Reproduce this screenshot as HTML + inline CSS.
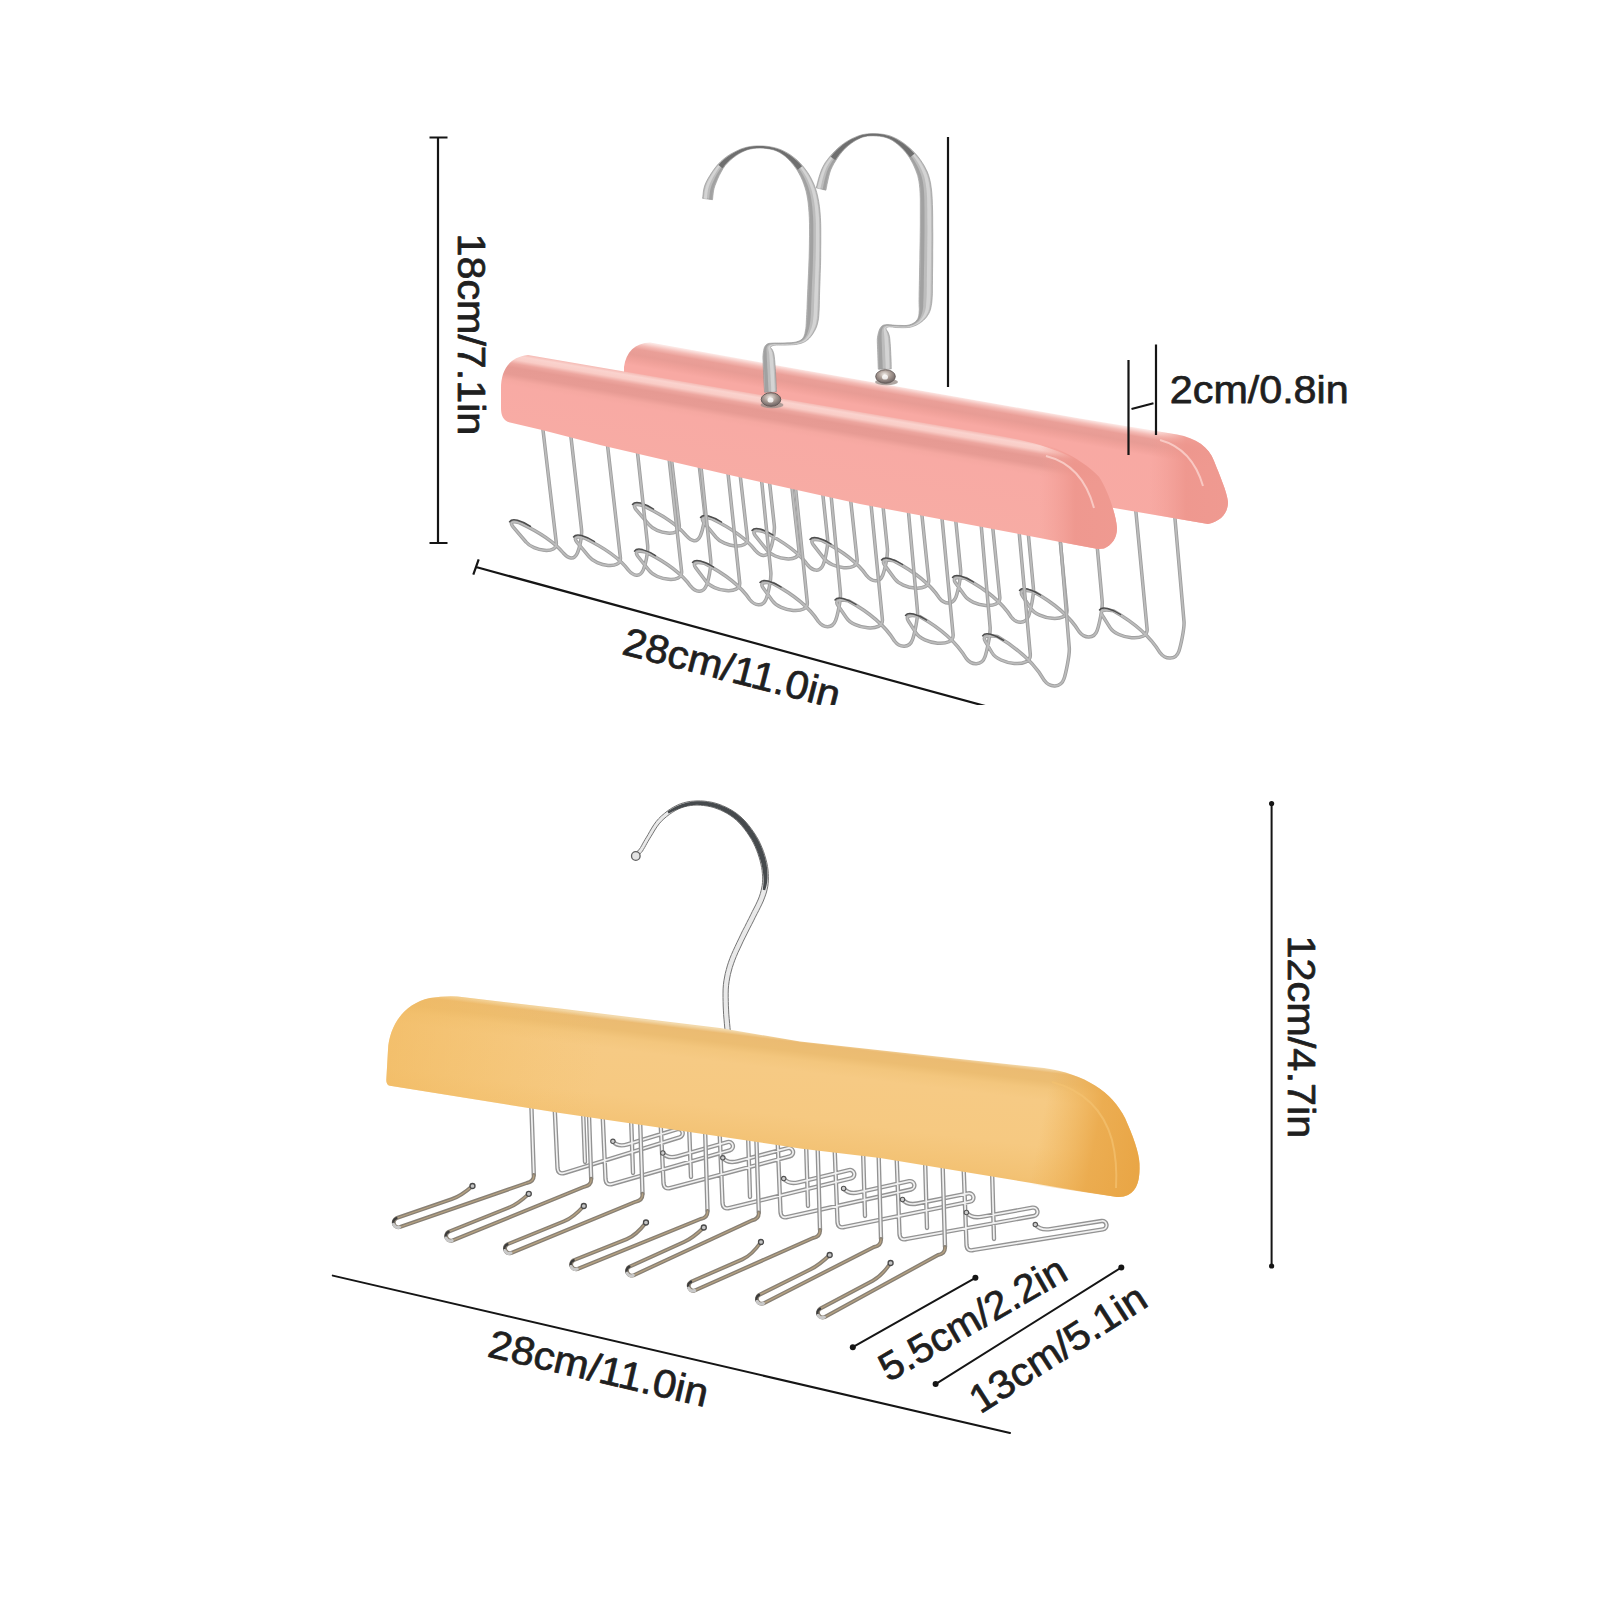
<!DOCTYPE html>
<html lang="en">
<head>
<meta charset="utf-8">
<title>Hanger size chart</title>
<style>
html,body{margin:0;padding:0;background:#fff;}
body{width:1600px;height:1600px;overflow:hidden;font-family:"Liberation Sans",sans-serif;}
svg{display:block}
</style>
</head>
<body>
<svg width="1600" height="1600" viewBox="0 0 1600 1600">
<defs>
<clipPath id="topclip"><rect x="0" y="0" width="1600" height="705"/></clipPath>
<linearGradient id="pinkF" gradientUnits="userSpaceOnUse" x1="700" y1="384.5" x2="683.05" y2="483.05">
 <stop offset="0" stop-color="#f5bab4"/><stop offset="0.03" stop-color="#fad3ce"/><stop offset="0.07" stop-color="#f9ccc6"/><stop offset="0.11" stop-color="#eda69f"/><stop offset="0.15" stop-color="#e69a93"/><stop offset="0.22" stop-color="#e79b94"/><stop offset="0.28" stop-color="#f5a8a1"/><stop offset="0.33" stop-color="#f8aaa4"/><stop offset="1" stop-color="#f7aca4"/>
</linearGradient>
<linearGradient id="pinkR" gradientUnits="userSpaceOnUse" x1="900" y1="387" x2="882.76" y2="485.5">
 <stop offset="0" stop-color="#fce6e3"/><stop offset="0.04" stop-color="#f4bbb5"/><stop offset="0.08" stop-color="#ea9f98"/><stop offset="0.14" stop-color="#e89c95"/><stop offset="0.19" stop-color="#f0a19a"/><stop offset="0.25" stop-color="#f8a9a3"/><stop offset="1" stop-color="#f7aaa3"/>
</linearGradient>
<linearGradient id="capF" gradientUnits="userSpaceOnUse" x1="1040" y1="500" x2="1118" y2="500">
 <stop offset="0" stop-color="#f29e95" stop-opacity="0"/><stop offset="0.45" stop-color="#ee968d" stop-opacity="0.9"/><stop offset="1" stop-color="#ef9a91"/>
</linearGradient>
<linearGradient id="capR" gradientUnits="userSpaceOnUse" x1="1150" y1="480" x2="1230" y2="480">
 <stop offset="0" stop-color="#f29e95" stop-opacity="0"/><stop offset="0.45" stop-color="#ee968d" stop-opacity="0.9"/><stop offset="1" stop-color="#ef9a91"/>
</linearGradient>
<linearGradient id="stripF" gradientUnits="userSpaceOnUse" x1="700" y1="0" x2="830" y2="0">
 <stop offset="0" stop-color="#a9a9a9"/><stop offset="0.5" stop-color="#8f8f8f"/><stop offset="0.82" stop-color="#b5b5b5"/><stop offset="0.9" stop-color="#d2d2d2"/><stop offset="1" stop-color="#a8a8a8"/>
</linearGradient>
<linearGradient id="stripR" gradientUnits="userSpaceOnUse" x1="815" y1="0" x2="940" y2="0">
 <stop offset="0" stop-color="#a9a9a9"/><stop offset="0.5" stop-color="#8f8f8f"/><stop offset="0.82" stop-color="#b5b5b5"/><stop offset="0.9" stop-color="#d2d2d2"/><stop offset="1" stop-color="#a8a8a8"/>
</linearGradient>
<radialGradient id="ballg" cx="0.45" cy="0.35" r="0.7">
 <stop offset="0" stop-color="#efe9e4"/><stop offset="0.45" stop-color="#a99c95"/><stop offset="1" stop-color="#63595a"/>
</radialGradient>
<linearGradient id="woodg" gradientUnits="userSpaceOnUse" x1="760" y1="1034" x2="744.5" y2="1163">
 <stop offset="0" stop-color="#f3d9ab"/><stop offset="0.03" stop-color="#ebbb72"/><stop offset="0.10" stop-color="#ecbd72"/><stop offset="0.16" stop-color="#f3c67d"/><stop offset="0.25" stop-color="#f6ca84"/><stop offset="0.6" stop-color="#f6c981"/><stop offset="0.85" stop-color="#f3c274"/><stop offset="1" stop-color="#f0b964"/>
</linearGradient>
<linearGradient id="woodcap" gradientUnits="userSpaceOnUse" x1="1040" y1="1130" x2="1140" y2="1150">
 <stop offset="0" stop-color="#eeb052" stop-opacity="0"/><stop offset="0.55" stop-color="#eaa849" stop-opacity="0.85"/><stop offset="1" stop-color="#e9a646"/>
</linearGradient>
<linearGradient id="woodleft" gradientUnits="userSpaceOnUse" x1="386" y1="1040" x2="600" y2="1066">
 <stop offset="0" stop-color="#f1b85c" stop-opacity="0.6"/><stop offset="0.45" stop-color="#f2bc62" stop-opacity="0.35"/><stop offset="1" stop-color="#f3c06a" stop-opacity="0"/>
</linearGradient>
<linearGradient id="chrome" gradientUnits="userSpaceOnUse" x1="630" y1="0" x2="770" y2="0">
 <stop offset="0" stop-color="#cfcfcf"/><stop offset="1" stop-color="#e6e6e6"/>
</linearGradient>
</defs>
<rect width="1600" height="1600" fill="#ffffff"/>
<g clip-path="url(#topclip)">
<!-- rear hanger -->
<path d="M665.1 405.1 L679.3 525.5 C680.7 537.4 656.6 534 649 524.7 L636.3 509.9 Q630.5 502.5 642.6 505.5 Q673.8 520.2 686.3 535.7 C691.3 541.3 696.9 543.4 700.4 535.7 C702.5 531.2 705.3 518.7 704.5 511.8 L693.2 412.9 M733.6 417.8 L747.4 538.2 C748.8 550.4 723.8 546.9 716.1 537.3 L704.2 522.9 Q698.5 515.5 711.2 518.5 Q742.6 533.7 755.3 550.4 C760.3 556.2 766.6 558.1 770 550.1 C772 545.5 775.1 532.3 774.3 525.4 L763.3 425.8 M785.6 430.5 L799 550.9 C800.4 563.4 774.4 559.8 766.8 549.9 L755.5 535.9 Q750 528.5 763.3 531.5 Q794.9 547.3 807.7 565 C812.8 571 819.8 572.8 823.2 564.6 C825.1 560 828.3 546 827.6 539 L816.9 438.7 M844.1 439.2 L857.1 559.6 C858.5 572.4 831.5 568.7 823.9 558.4 L813.4 544.9 Q808 537.5 821.8 540.4 Q853.7 556.8 866.7 575.7 C871.8 581.9 879.5 583.4 882.8 575 C884.7 570.4 888.1 555.6 887.4 548.6 L877 447.6 M916.1 459.4 L928.7 579.9 C930.1 592.8 902.1 589.2 894.5 578.5 L884.8 565.4 Q879.5 558 893.9 560.9 Q925.9 577.8 939.2 597.8 C944.2 604.2 952.6 605.6 956 596.9 C957.7 592.3 961.3 576.7 960.6 569.7 L950.6 467.9 M987.6 476.6 L999.8 597.1 C1001.2 610.3 972.1 606.6 964.6 595.6 L955.6 583 Q950.5 575.5 965.5 578.4 Q997.7 595.8 1011.2 617 C1016.2 623.6 1025.3 624.7 1028.6 615.9 C1030.3 611.2 1034.1 594.8 1033.4 587.8 L1023.7 485.3 M1055.1 489.3 L1067 609.8 C1068.3 623.3 1038.1 619.6 1030.8 608.2 L1022.5 596 Q1017.5 588.5 1033.1 591.4 Q1065.5 609.4 1079.1 631.6 C1084.2 638.4 1094 639.4 1097.2 630.3 C1098.9 625.6 1102.8 608.4 1102.2 601.4 L1092.8 498.3 M1135.6 508.5 L1147.1 629 C1148.4 642.8 1117.1 639.1 1109.9 627.3 L1102.4 615.5 Q1097.5 608 1113.7 610.9 Q1146.2 629.4 1160.1 652.8 C1165.2 659.8 1175.7 660.5 1178.9 651.2 C1180.5 646.5 1184.6 628.5 1184 621.5 L1174.9 517.7" fill="none" stroke="#9f9f9f" stroke-width="3.5" stroke-linecap="round" stroke-linejoin="round"/>
<path d="M665.1 405.1 L679.3 525.5 C680.7 537.4 656.6 534 649 524.7 L636.3 509.9 Q630.5 502.5 642.6 505.5 Q673.8 520.2 686.3 535.7 C691.3 541.3 696.9 543.4 700.4 535.7 C702.5 531.2 705.3 518.7 704.5 511.8 L693.2 412.9 M733.6 417.8 L747.4 538.2 C748.8 550.4 723.8 546.9 716.1 537.3 L704.2 522.9 Q698.5 515.5 711.2 518.5 Q742.6 533.7 755.3 550.4 C760.3 556.2 766.6 558.1 770 550.1 C772 545.5 775.1 532.3 774.3 525.4 L763.3 425.8 M785.6 430.5 L799 550.9 C800.4 563.4 774.4 559.8 766.8 549.9 L755.5 535.9 Q750 528.5 763.3 531.5 Q794.9 547.3 807.7 565 C812.8 571 819.8 572.8 823.2 564.6 C825.1 560 828.3 546 827.6 539 L816.9 438.7 M844.1 439.2 L857.1 559.6 C858.5 572.4 831.5 568.7 823.9 558.4 L813.4 544.9 Q808 537.5 821.8 540.4 Q853.7 556.8 866.7 575.7 C871.8 581.9 879.5 583.4 882.8 575 C884.7 570.4 888.1 555.6 887.4 548.6 L877 447.6 M916.1 459.4 L928.7 579.9 C930.1 592.8 902.1 589.2 894.5 578.5 L884.8 565.4 Q879.5 558 893.9 560.9 Q925.9 577.8 939.2 597.8 C944.2 604.2 952.6 605.6 956 596.9 C957.7 592.3 961.3 576.7 960.6 569.7 L950.6 467.9 M987.6 476.6 L999.8 597.1 C1001.2 610.3 972.1 606.6 964.6 595.6 L955.6 583 Q950.5 575.5 965.5 578.4 Q997.7 595.8 1011.2 617 C1016.2 623.6 1025.3 624.7 1028.6 615.9 C1030.3 611.2 1034.1 594.8 1033.4 587.8 L1023.7 485.3 M1055.1 489.3 L1067 609.8 C1068.3 623.3 1038.1 619.6 1030.8 608.2 L1022.5 596 Q1017.5 588.5 1033.1 591.4 Q1065.5 609.4 1079.1 631.6 C1084.2 638.4 1094 639.4 1097.2 630.3 C1098.9 625.6 1102.8 608.4 1102.2 601.4 L1092.8 498.3 M1135.6 508.5 L1147.1 629 C1148.4 642.8 1117.1 639.1 1109.9 627.3 L1102.4 615.5 Q1097.5 608 1113.7 610.9 Q1146.2 629.4 1160.1 652.8 C1165.2 659.8 1175.7 660.5 1178.9 651.2 C1180.5 646.5 1184.6 628.5 1184 621.5 L1174.9 517.7" fill="none" stroke="#bcbcbc" stroke-width="1.7" stroke-linecap="round" stroke-linejoin="round"/>
<path d="M632.5 504.5 q2 -3 8 -1.5 q7 2 13 6" fill="none" stroke="#4d4d4d" stroke-width="1.5" stroke-linecap="round"/>
<path d="M700.5 517.5 q2 -3 8 -1.5 q7 2 13 6" fill="none" stroke="#4d4d4d" stroke-width="1.5" stroke-linecap="round"/>
<path d="M752 530.5 q2 -3 8 -1.5 q7 2 13 6" fill="none" stroke="#4d4d4d" stroke-width="1.5" stroke-linecap="round"/>
<path d="M810 539.5 q2 -3 8 -1.5 q7 2 13 6" fill="none" stroke="#4d4d4d" stroke-width="1.5" stroke-linecap="round"/>
<path d="M881.5 560 q2 -3 8 -1.5 q7 2 13 6" fill="none" stroke="#4d4d4d" stroke-width="1.5" stroke-linecap="round"/>
<path d="M952.5 577.5 q2 -3 8 -1.5 q7 2 13 6" fill="none" stroke="#4d4d4d" stroke-width="1.5" stroke-linecap="round"/>
<path d="M1019.5 590.5 q2 -3 8 -1.5 q7 2 13 6" fill="none" stroke="#4d4d4d" stroke-width="1.5" stroke-linecap="round"/>
<path d="M1099.5 610 q2 -3 8 -1.5 q7 2 13 6" fill="none" stroke="#4d4d4d" stroke-width="1.5" stroke-linecap="round"/>
<path d="M650 342.5 L800 369.5 L950 395.8 L1080 418.5 L1177 434.5 C1196 438 1209 447 1214 461 C1220 476 1227 492 1228 502 C1228 512 1222 521 1208 524 L1117 508.5 L1000 489 L800 450 L640 420 L624 400 L624 367 C626 352 635 343 650 342.5 Z" fill="url(#pinkR)"/>
<path d="M1150 430 L1177 434.5 C1196 438 1209 447 1214 461 C1220 476 1227 492 1228 502 C1228 512 1222 521 1208 524 L1150 514 Z" fill="url(#capR)"/>
<path d="M1160 440 C1182 446 1196 462 1203 486" fill="none" stroke="#fbd5cf" stroke-width="2" opacity="0.8"/>
<path d="M825.9 190.2 L826.4 187.8 L827 184.5 L827.8 180.8 L828.7 176.8 L829.7 173.1 L830.8 169.8 L832.2 166.8 L833.9 163.6 L835.8 160.5 L837.8 157.4 L839.9 154.5 L842 151.9 L844.1 149.6 L846.3 147.4 L848.6 145.4 L851 143.5 L853.3 141.9 L855.7 140.4 L858 139.2 L860.3 138.1 L862.5 137.2 L864.9 136.6 L867.3 136.1 L870.1 135.9 L873.1 135.8 L876.3 136 L879.7 136.3 L883.1 136.8 L886.4 137.7 L889.4 138.9 L892.3 140.4 L895.2 142.4 L897.9 144.5 L900.6 146.9 L903.1 149.5 L905.4 152.1 L907.5 154.8 L909.5 157.7 L911.3 160.8 L913 163.9 L914.4 167 L915.7 170.1 L916.8 173 L917.7 175.6 L918.3 178.3 L918.9 181.1 L919.4 184.5 L919.8 188.6 L920.1 193.4 L920.3 198.8 L920.3 204.7 L920.3 211.1 L920.3 217.9 L920.3 225 L920.2 232.8 L920.1 241.6 L919.9 250.7 L919.8 259.6 L919.6 267.9 L919.5 274.9 L919.4 280.7 L919.3 285.6 L919.2 289.8 L919.1 293.4 L919.1 296.6 L919 299.7 L919 302.4 L919.1 304.6 L919.1 306.3 L919.2 307.8 L919.3 309.1 L919.2 310.5 L919.1 312.1 L919 313.7 L918.8 315.2 L918.5 316.7 L918.1 318.1 L917.4 319.4 L916.5 320.6 L915.4 321.7 L914.2 322.7 L912.8 323.5 L911.3 324.2 L909.7 324.8 L908 325.2 L906.1 325.5 L904.1 325.5 L902 325.5 L899.9 325.4 L898 325.4 L896.2 325.3 L894.4 325.2 L892.7 325 L890.9 324.8 L889.3 324.7 L887.9 324.6 L886.6 324.6 L885.4 324.7 L884.2 324.9 L882.9 325.4 L881.7 326.2 L880.7 327.4 L879.8 328.9 L879.1 330.6 L878.6 332.2 L878.2 333.8 L877.8 335.5 L877.5 337.3 L877.3 339.4 L877.3 341.8 L877.4 344.3 L877.5 346.9 L877.6 349.6 L877.7 352.3 L877.8 355.2 L877.9 358.4 L878 361.7 L878.1 364.7 L878.2 367.3 L878.3 369.2 L891.3 368.8 L891.2 366.9 L891.2 364.3 L891.1 361.2 L891 357.9 L890.8 354.7 L890.7 351.7 L890.5 349 L890.4 346.3 L890.2 343.6 L890 341.1 L889.8 338.8 L889.5 336.7 L889 334.8 L888.4 333.1 L887.8 331.8 L887.1 330.8 L886.6 330.1 L886.3 329.6 L886.1 329.1 L886 328.7 L886.1 328.3 L886.4 327.8 L887.2 327.3 L888.1 327 L889.3 326.8 L890.8 326.9 L892.4 327 L894.2 327.3 L896.1 327.5 L898 327.6 L899.9 327.6 L901.9 327.7 L904.1 327.7 L906.2 327.6 L908.3 327.5 L910.3 327.2 L912.2 326.7 L913.9 326.1 L915.7 325.4 L917.4 324.6 L919 323.6 L920.6 322.6 L922.1 321.4 L923.7 320.1 L925.1 318.7 L926.5 317.1 L927.7 315.3 L928.8 313.5 L929.7 311.6 L930.4 309.7 L930.9 307.7 L931.3 305.5 L931.7 303.2 L932 300.3 L932.2 297.1 L932.4 293.7 L932.4 290 L932.4 285.8 L932.5 280.8 L932.5 275.1 L932.6 268.1 L932.7 259.8 L932.7 250.8 L932.8 241.7 L932.8 232.9 L932.7 225 L932.7 217.9 L932.6 211 L932.4 204.5 L932.2 198.4 L931.8 192.6 L931.2 187.4 L930.5 182.8 L929.6 178.9 L928.6 175.4 L927.4 172.1 L925.9 169.1 L924.3 165.9 L922.3 162.7 L920.1 159.4 L917.7 156.3 L915.1 153.3 L912.4 150.5 L909.6 147.9 L906.7 145.5 L903.7 143.2 L900.5 141 L897.2 139.1 L893.9 137.5 L890.6 136.1 L887.1 135.1 L883.6 134.4 L880 133.9 L876.5 133.7 L873.1 133.6 L869.9 133.7 L867.1 133.9 L864.4 134.3 L861.8 134.8 L859.3 135.6 L856.8 136.5 L854.3 137.6 L851.6 138.8 L848.9 140.3 L846.1 141.9 L843.4 143.8 L840.7 145.8 L838 148.1 L835.4 150.6 L832.7 153.3 L830.1 156.3 L827.6 159.4 L825.2 162.7 L823.2 166.2 L821.4 170.1 L819.9 174.3 L818.6 178.5 L817.6 182.4 L816.8 185.6 L816.1 187.8Z" fill="#bcbcbc" stroke="#8f8f8f" stroke-width="0.6" stroke-linejoin="round"/>
<path d="M820.3 188.9 L820.9 186.5 L821.6 183.3 L822.5 179.5 L823.6 175.4 L824.9 171.4 L826.4 167.8 L828.2 164.5 L830.3 161.3 L832.5 158.1 L834.9 155.1 L837.3 152.3 L839.7 149.7 L842.1 147.4 L844.6 145.3 L847.2 143.4 L849.8 141.7 L852.3 140.2 L854.9 138.8 L857.3 137.6 L859.7 136.7 L862.1 135.9 L864.6 135.3 L867.2 134.9 L870 134.6 L873.1 134.6 L876.4 134.7 L879.9 134.9 L883.4 135.4 L886.8 136.2 L890.1 137.3 L893.2 138.7 L896.4 140.5 L899.4 142.6 L902.4 144.8 L905.2 147.2 L907.8 149.7 L910.3 152.4 L912.7 155.2 L915 158.3 L917.1 161.4 L919 164.6 L920.6 167.7 L922 170.8 L923.2 173.7 L924.2 176.6 L925 179.9 L925.7 183.6 L926.3 187.9 L926.8 193 L927.1 198.6 L927.2 204.6 L927.3 211.1 L927.3 217.9 L927.4 225 L927.4 232.9 L927.3 241.6 L927.2 250.8 L927.1 259.7 L927 268 L926.9 275 L926.8 280.8 L926.8 285.7 L926.7 289.9 L926.7 293.6 L926.6 296.9 L926.4 300 L926.2 302.8 L926.1 305.1 L925.9 307 L925.6 308.7 L925.2 310.4 L924.7 312.1 L924.1 313.8 L923.3 315.5 L922.5 317.1 L921.5 318.6 L920.4 319.9 L919.3 321.2 L918 322.3 L916.6 323.3 L915.1 324.2 L913.5 325 L911.8 325.6 L910 326.2 L908.2 326.5 L906.2 326.7 L904.1 326.8 L902 326.7 L899.9 326.7 L898 326.7 L896.1 326.6 L894.3 326.4 L892.5 326.2 L890.8 326 L889.3 325.9 L888 326 L886.9 326.2 L885.9 326.5 L885.2 326.9 L884.6 327.4 L884.1 328.1 L883.8 328.9 L883.7 329.9 L883.7 331 L883.9 332.2 L884 333.6 L884.2 335.3 L884.3 337.1 L884.5 339.1 L884.6 341.4 L884.7 343.9 L884.9 346.6 L885 349.3 L885.1 352 L885.2 354.9 L885.3 358.1 L885.5 361.4 L885.6 364.5 L885.6 367.1 L885.7 369 L889.6 368.8 L889.5 367 L889.5 364.4 L889.4 361.3 L889.3 358 L889.1 354.7 L889 351.8 L888.9 349.1 L888.7 346.4 L888.6 343.7 L888.4 341.2 L888.2 338.8 L887.9 336.7 L887.5 334.7 L887 333 L886.5 331.6 L886.1 330.5 L885.8 329.7 L885.6 329.1 L885.6 328.6 L885.7 328.1 L885.9 327.8 L886.4 327.4 L887.1 327 L888.1 326.7 L889.3 326.5 L890.8 326.6 L892.4 326.8 L894.2 327 L896.1 327.2 L898 327.3 L899.9 327.3 L902 327.4 L904.1 327.4 L906.2 327.3 L908.3 327.2 L910.2 326.9 L912 326.4 L913.8 325.8 L915.5 325 L917.1 324.2 L918.7 323.3 L920.1 322.2 L921.6 321 L922.9 319.8 L924.2 318.3 L925.5 316.7 L926.5 315 L927.5 313.2 L928.3 311.4 L928.9 309.5 L929.4 307.6 L929.7 305.5 L930 303.1 L930.3 300.3 L930.5 297.1 L930.6 293.7 L930.7 290 L930.7 285.7 L930.8 280.8 L930.8 275.1 L930.9 268 L931 259.8 L931.1 250.8 L931.2 241.7 L931.2 232.9 L931.1 225 L931.1 217.9 L931 211 L930.8 204.5 L930.6 198.4 L930.3 192.7 L929.7 187.5 L929 183 L928.2 179.1 L927.3 175.7 L926.1 172.6 L924.7 169.5 L923.1 166.4 L921.3 163.2 L919.2 160 L916.9 156.9 L914.4 153.9 L911.8 151 L909.1 148.4 L906.2 146 L903.3 143.7 L900.1 141.5 L896.9 139.5 L893.7 137.8 L890.4 136.5 L887 135.4 L883.5 134.7 L879.9 134.2 L876.4 134 L873.1 133.9 L870 134 L867.1 134.2 L864.5 134.6 L861.9 135.2 L859.5 135.9 L857 136.8 L854.5 137.9 L851.8 139.2 L849.2 140.7 L846.5 142.4 L843.8 144.2 L841.1 146.3 L838.6 148.6 L836 151.1 L833.4 153.8 L830.9 156.8 L828.4 159.9 L826.2 163.2 L824.2 166.6 L822.5 170.4 L821 174.6 L819.8 178.8 L818.8 182.6 L818 185.8 L817.4 188.1Z" fill="#d6d6d6" opacity="0.9"/>
<path d="M825.3 190 L825.8 187.6 L826.4 184.4 L827.2 180.6 L828.1 176.7 L829.2 172.9 L830.4 169.6 L831.8 166.5 L833.6 163.3 L835.5 160.2 L837.5 157.1 L839.6 154.3 L841.8 151.7 L843.9 149.3 L846.2 147.1 L848.5 145.1 L850.9 143.3 L853.3 141.7 L855.7 140.2 L858 139 L860.2 138 L862.5 137.1 L864.8 136.5 L867.3 136 L870 135.8 L873.1 135.7 L876.3 135.8 L879.7 136.1 L883.1 136.7 L886.4 137.6 L889.5 138.7 L892.4 140.3 L895.3 142.1 L898.1 144.3 L900.7 146.7 L903.3 149.2 L905.6 151.8 L907.7 154.5 L909.8 157.4 L911.6 160.4 L913.4 163.5 L914.9 166.7 L916.2 169.8 L917.3 172.7 L918.2 175.4 L918.9 178 L919.5 181 L920 184.4 L920.5 188.5 L920.8 193.4 L921 198.8 L921.1 204.7 L921.1 211.1 L921 217.9 L921 225 L921 232.8 L920.8 241.6 L920.7 250.7 L920.6 259.6 L920.4 267.9 L920.3 274.9 L920.2 280.7 L920.1 285.6 L920 289.8 L919.9 293.4 L919.8 296.7 L919.8 299.8 L919.8 302.5 L919.8 304.8 L919.8 306.6 L919.9 308.1 L919.9 309.4 L919.8 310.9 L919.6 312.5 L919.4 314.1 L919.1 315.6 L918.7 317.1 L918.2 318.4 L917.5 319.7 L916.6 320.8 L915.5 321.9 L914.2 322.8 L912.8 323.7 L911.3 324.4 L909.7 325 L908 325.4 L906.1 325.6 L904.1 325.7 L902 325.6 L899.9 325.6 L898 325.5 L896.2 325.5 L894.4 325.3 L892.6 325.1 L890.9 324.9 L889.3 324.8 L887.9 324.7 L886.7 324.8 L885.5 324.9 L884.4 325.1 L883.2 325.5 L882.1 326.3 L881.1 327.4 L880.3 328.8 L879.7 330.3 L879.2 331.9 L878.8 333.5 L878.5 335.2 L878.2 337.1 L878.1 339.2 L878.1 341.7 L878.2 344.2 L878.3 346.9 L878.4 349.6 L878.5 352.2 L878.6 355.1 L878.7 358.4 L878.8 361.6 L878.9 364.7 L879 367.3 L879.1 369.2 L882.7 369.1 L882.7 367.2 L882.6 364.6 L882.5 361.5 L882.3 358.2 L882.2 355 L882.1 352.1 L882 349.4 L881.9 346.7 L881.8 344.1 L881.7 341.6 L881.6 339.3 L881.6 337.2 L881.6 335.5 L881.6 333.9 L881.7 332.3 L881.8 330.9 L882.1 329.5 L882.5 328.3 L883.1 327.3 L883.9 326.6 L884.7 326.1 L885.7 325.8 L886.7 325.6 L887.9 325.4 L889.3 325.4 L890.9 325.5 L892.6 325.7 L894.4 325.9 L896.2 326.1 L898 326.1 L899.9 326.2 L902 326.2 L904.1 326.3 L906.1 326.2 L908.1 326 L909.9 325.6 L911.6 325.1 L913.2 324.4 L914.7 323.6 L916.1 322.6 L917.4 321.6 L918.5 320.4 L919.5 319.1 L920.3 317.7 L921 316.2 L921.6 314.6 L922.1 313 L922.5 311.3 L922.8 309.7 L923 308.2 L923.2 306.6 L923.2 304.8 L923.3 302.6 L923.4 299.9 L923.5 296.8 L923.6 293.5 L923.7 289.8 L923.8 285.6 L923.8 280.7 L923.9 275 L924 267.9 L924.2 259.7 L924.3 250.7 L924.4 241.6 L924.5 232.9 L924.5 225 L924.5 217.9 L924.5 211.1 L924.4 204.7 L924.3 198.7 L924.1 193.2 L923.7 188.2 L923.2 184 L922.6 180.4 L921.8 177.3 L921 174.5 L919.9 171.7 L918.7 168.7 L917.1 165.6 L915.4 162.4 L913.5 159.3 L911.4 156.3 L909.2 153.4 L906.8 150.7 L904.3 148.2 L901.7 145.7 L898.8 143.4 L895.9 141.3 L892.9 139.4 L889.8 138 L886.6 136.8 L883.3 136 L879.8 135.5 L876.4 135.2 L873.1 135.1 L870 135.2 L867.3 135.4 L864.7 135.8 L862.3 136.4 L860 137.2 L857.6 138.3 L855.2 139.5 L852.7 140.9 L850.2 142.4 L847.8 144.2 L845.3 146.2 L842.9 148.3 L840.6 150.6 L838.3 153.2 L836 156.1 L833.8 159.1 L831.7 162.2 L829.8 165.4 L828.2 168.6 L826.8 172.1 L825.7 176 L824.6 180 L823.8 183.8 L823.1 187.1 L822.5 189.4Z" fill="#9a9a9a" opacity="0.8"/>
<path d="M835.2 160.1 L837.3 157 L839.4 154.1 L841.6 151.5 L843.8 149.2 L846 147 L848.4 145 L850.8 143.2 L853.2 141.6 L855.6 140.1 L857.9 138.9 L860.2 137.9 L862.5 137 L864.8 136.4 L867.3 136 L870 135.8 L873.1 135.7 L876.3 135.8 L879.7 136.1 L883.1 136.6 L886.5 137.4 L889.6 138.6 L892.5 140.1 L895.4 142 L898.2 144.2 L900.9 146.6 L903.4 149.1 L905.8 151.7 L908 154.4 L910.1 157.3 L914.5 153.7 L911.9 150.9 L909.2 148.3 L906.4 145.9 L903.4 143.6 L900.2 141.4 L897 139.4 L893.7 137.8 L890.4 136.4 L887 135.4 L883.5 134.6 L880 134.1 L876.4 133.8 L873.1 133.7 L870 133.8 L867.1 134 L864.4 134.5 L861.9 135.1 L859.4 135.8 L857 136.8 L854.4 137.9 L851.8 139.1 L849.1 140.6 L846.4 142.3 L843.7 144.1 L841 146.2 L838.4 148.5 L835.8 151 L833.2 153.7 L830.7 156.7Z" fill="#6f6f6f"/>
<ellipse cx="886.5" cy="382" rx="11.5" ry="3.2" fill="#9a8f8a" opacity="0.8"/>
<ellipse cx="885.5" cy="376.5" rx="9.8" ry="6.8" fill="url(#ballg)" stroke="#5f5653" stroke-width="0.9"/>
<ellipse cx="885" cy="377" rx="3" ry="2.6" fill="#ffffff" opacity="0.8"/>
<!-- front hanger -->
<path d="M542.1 422.4 L556.3 542.8 C557.7 554.7 533.6 551.3 526 542 L513.3 527.2 Q507.5 519.8 519.6 522.8 Q550.8 537.5 563.3 553 C568.3 558.6 573.9 560.7 577.4 553 C579.5 548.5 582.3 536 581.5 529.1 L570.2 430.2 M606.6 437.2 L620.4 557.7 C621.8 569.9 596.6 566.4 589 556.7 L577.1 542.4 Q571.5 535 584.3 538 Q615.8 553.3 628.4 570.1 C633.5 576 639.9 577.9 643.3 569.9 C645.3 565.3 648.4 552 647.6 545 L636.7 445.2 M668.2 451 L681.6 571.4 C682.9 584 656.6 580.4 648.9 570.3 L638 556.5 Q632.5 549.1 646 552.1 Q677.7 568 690.6 586.2 C695.6 592.3 702.9 593.9 706.3 585.7 C708.2 581 711.5 566.8 710.7 559.8 L700.2 459.2 M726.8 462 L739.7 582.5 C741.1 595.3 713.5 591.7 705.9 581.2 L695.8 567.9 Q690.5 560.5 704.7 563.4 Q736.6 580.1 749.7 599.5 C754.8 605.9 762.9 607.3 766.2 598.8 C768 594.1 771.5 578.9 770.8 571.9 L760.6 470.5 M794.9 481.7 L807.3 602.2 C808.7 615.3 779.9 611.6 772.4 600.7 L763.2 588 Q758 580.5 772.8 583.4 Q805 600.7 818.4 621.5 C823.4 628 832.3 629.2 835.6 620.4 C837.4 615.8 841.1 599.6 840.4 592.6 L830.6 490.4 M870.5 498.9 L882.4 619.3 C883.8 632.8 853.7 629.1 846.4 617.7 L838 605.5 Q833 598 848.5 600.9 Q880.9 618.8 894.5 641 C899.6 647.7 909.3 648.7 912.5 639.6 C914.2 634.9 918.1 617.8 917.5 610.9 L908.1 507.8 M941.6 514 L953.1 634.5 C954.4 648.3 923 644.6 915.8 632.7 L908.4 621 Q903.5 613.5 919.7 616.4 Q952.3 634.9 966.2 658.4 C971.3 665.4 981.8 666.1 985 656.8 C986.6 652.1 990.7 634 990.1 627.1 L981 523.1 M1019.3 534 L1030.3 654.4 C1031.6 668.6 998.9 664.9 991.9 652.5 L985.3 641.3 Q980.6 633.8 997.5 636.6 Q1030.3 655.9 1044.4 680.6 C1049.6 687.8 1060.8 688.3 1064 678.8 C1065.6 674.1 1069.8 655.1 1069.3 648.1 L1060.6 543.3" fill="none" stroke="#9f9f9f" stroke-width="3.5" stroke-linecap="round" stroke-linejoin="round"/>
<path d="M542.1 422.4 L556.3 542.8 C557.7 554.7 533.6 551.3 526 542 L513.3 527.2 Q507.5 519.8 519.6 522.8 Q550.8 537.5 563.3 553 C568.3 558.6 573.9 560.7 577.4 553 C579.5 548.5 582.3 536 581.5 529.1 L570.2 430.2 M606.6 437.2 L620.4 557.7 C621.8 569.9 596.6 566.4 589 556.7 L577.1 542.4 Q571.5 535 584.3 538 Q615.8 553.3 628.4 570.1 C633.5 576 639.9 577.9 643.3 569.9 C645.3 565.3 648.4 552 647.6 545 L636.7 445.2 M668.2 451 L681.6 571.4 C682.9 584 656.6 580.4 648.9 570.3 L638 556.5 Q632.5 549.1 646 552.1 Q677.7 568 690.6 586.2 C695.6 592.3 702.9 593.9 706.3 585.7 C708.2 581 711.5 566.8 710.7 559.8 L700.2 459.2 M726.8 462 L739.7 582.5 C741.1 595.3 713.5 591.7 705.9 581.2 L695.8 567.9 Q690.5 560.5 704.7 563.4 Q736.6 580.1 749.7 599.5 C754.8 605.9 762.9 607.3 766.2 598.8 C768 594.1 771.5 578.9 770.8 571.9 L760.6 470.5 M794.9 481.7 L807.3 602.2 C808.7 615.3 779.9 611.6 772.4 600.7 L763.2 588 Q758 580.5 772.8 583.4 Q805 600.7 818.4 621.5 C823.4 628 832.3 629.2 835.6 620.4 C837.4 615.8 841.1 599.6 840.4 592.6 L830.6 490.4 M870.5 498.9 L882.4 619.3 C883.8 632.8 853.7 629.1 846.4 617.7 L838 605.5 Q833 598 848.5 600.9 Q880.9 618.8 894.5 641 C899.6 647.7 909.3 648.7 912.5 639.6 C914.2 634.9 918.1 617.8 917.5 610.9 L908.1 507.8 M941.6 514 L953.1 634.5 C954.4 648.3 923 644.6 915.8 632.7 L908.4 621 Q903.5 613.5 919.7 616.4 Q952.3 634.9 966.2 658.4 C971.3 665.4 981.8 666.1 985 656.8 C986.6 652.1 990.7 634 990.1 627.1 L981 523.1 M1019.3 534 L1030.3 654.4 C1031.6 668.6 998.9 664.9 991.9 652.5 L985.3 641.3 Q980.6 633.8 997.5 636.6 Q1030.3 655.9 1044.4 680.6 C1049.6 687.8 1060.8 688.3 1064 678.8 C1065.6 674.1 1069.8 655.1 1069.3 648.1 L1060.6 543.3" fill="none" stroke="#bcbcbc" stroke-width="1.7" stroke-linecap="round" stroke-linejoin="round"/>
<path d="M509.5 521.8 q2 -3 8 -1.5 q7 2 13 6" fill="none" stroke="#4d4d4d" stroke-width="1.5" stroke-linecap="round"/>
<path d="M573.5 537 q2 -3 8 -1.5 q7 2 13 6" fill="none" stroke="#4d4d4d" stroke-width="1.5" stroke-linecap="round"/>
<path d="M634.5 551.1 q2 -3 8 -1.5 q7 2 13 6" fill="none" stroke="#4d4d4d" stroke-width="1.5" stroke-linecap="round"/>
<path d="M692.5 562.5 q2 -3 8 -1.5 q7 2 13 6" fill="none" stroke="#4d4d4d" stroke-width="1.5" stroke-linecap="round"/>
<path d="M760 582.5 q2 -3 8 -1.5 q7 2 13 6" fill="none" stroke="#4d4d4d" stroke-width="1.5" stroke-linecap="round"/>
<path d="M835 600 q2 -3 8 -1.5 q7 2 13 6" fill="none" stroke="#4d4d4d" stroke-width="1.5" stroke-linecap="round"/>
<path d="M905.5 615.5 q2 -3 8 -1.5 q7 2 13 6" fill="none" stroke="#4d4d4d" stroke-width="1.5" stroke-linecap="round"/>
<path d="M982.6 635.8 q2 -3 8 -1.5 q7 2 13 6" fill="none" stroke="#4d4d4d" stroke-width="1.5" stroke-linecap="round"/>
<path d="M528 355 L1000 436 C1040 443 1078 455 1099 477 C1108 490 1116 515 1117 528 C1117 538 1112 545 1104 548.5 L1098 549 L860 504 L725 474 L600 445 L542 430 L510 422.5 C503 421 501 415 501 408 L501 388 C501 372 508 357 528 355 Z" fill="url(#pinkF)"/>
<path d="M1030 441 C1050 445 1078 455 1099 477 C1108 490 1116 515 1117 528 C1117 538 1112 545 1104 548.5 L1098 549 L1030 536.5 Z" fill="url(#capF)"/>
<path d="M1046 456 C1070 462 1086 478 1094 508" fill="none" stroke="#fbd5cf" stroke-width="2" opacity="0.8"/>
<path d="M712.5 199.7 L712.7 198 L712.9 195.9 L713.2 193.5 L713.5 191 L714.1 188.4 L714.9 185.8 L716.1 182.8 L717.5 179.3 L719.2 175.6 L721.1 172 L723.1 168.5 L725.2 165.5 L727.6 162.8 L730.3 160.2 L733.1 157.8 L736.1 155.6 L739.2 153.6 L742.1 152 L745 150.7 L747.9 149.6 L750.9 148.9 L753.8 148.4 L756.9 148.2 L760 148.1 L763.2 148.2 L766.5 148.5 L769.9 149 L773.2 149.8 L776.3 150.9 L779.4 152.4 L782.3 154.2 L785.1 156.3 L787.8 158.7 L790.4 161.4 L792.8 164.2 L795 167.1 L797.1 170.1 L799 173.4 L800.8 176.8 L802.4 180.3 L803.8 183.9 L805 187.6 L806.1 191.3 L806.9 195 L807.6 198.9 L808.2 203 L808.6 207.5 L809 212.4 L809.3 217.8 L809.5 223.7 L809.5 229.8 L809.5 236.3 L809.4 243.1 L809.3 249.9 L809.1 257.2 L808.8 265.1 L808.5 273.2 L808.1 281.1 L807.8 288.5 L807.5 294.8 L807.3 300 L807.1 304.5 L807 308.3 L806.8 311.7 L806.7 314.6 L806.5 317.4 L806.4 319.9 L806.3 322 L806.2 323.7 L806.1 325.3 L806 326.8 L805.8 328.5 L805.5 330.2 L805.2 331.8 L804.9 333.4 L804.5 334.9 L804 336.2 L803.4 337.4 L802.6 338.4 L801.8 339.3 L800.8 340.1 L799.6 340.7 L798.2 341.3 L796.7 341.8 L795.1 342.2 L793.2 342.5 L791.2 342.7 L789.1 342.7 L787 342.8 L785 342.9 L782.9 343 L780.7 343 L778.6 343 L776.5 343 L774.5 343 L772.8 343.1 L771.4 343.2 L770.1 343.3 L768.9 343.4 L767.6 343.8 L766.3 344.7 L765.2 345.9 L764.4 347.5 L763.9 349.1 L763.6 350.7 L763.4 352.2 L763.2 353.7 L763 355.4 L762.9 357.6 L763 360.2 L763.1 363.1 L763.2 366.1 L763.4 369.2 L763.5 372.3 L763.7 375.7 L763.8 379.5 L764 383.4 L764.2 387 L764.4 390.1 L764.5 392.3 L776.5 391.7 L776.4 389.5 L776.3 386.4 L776.1 382.8 L775.9 378.9 L775.7 375.1 L775.5 371.7 L775.3 368.6 L775.1 365.4 L774.9 362.4 L774.6 359.5 L774.3 356.9 L774 354.6 L773.5 352.5 L772.8 350.8 L772.2 349.5 L771.6 348.7 L771.1 348.4 L770.8 348.1 L770.6 347.8 L770.4 347.4 L770.6 346.9 L771.1 346.4 L772 345.9 L773.2 345.5 L774.7 345.2 L776.5 345.1 L778.6 345.1 L780.7 345.1 L782.9 345.1 L785 345.1 L787.1 345 L789.2 344.9 L791.3 344.8 L793.4 344.7 L795.4 344.5 L797.3 344.2 L799 343.8 L800.6 343.4 L802.1 342.9 L803.6 342.3 L805.1 341.6 L806.6 340.6 L808.1 339.4 L809.5 338.1 L810.8 336.6 L812 335 L813.2 333.3 L814.2 331.5 L815.2 329.8 L816 328 L816.8 326 L817.4 323.9 L818 321.4 L818.5 318.6 L818.8 315.5 L819 312.3 L819.2 308.8 L819.3 304.9 L819.4 300.4 L819.5 295.2 L819.7 288.9 L820 281.6 L820.2 273.7 L820.5 265.5 L820.7 257.5 L820.7 250.1 L820.8 243.2 L820.8 236.4 L820.8 229.8 L820.7 223.4 L820.4 217.3 L820 211.6 L819.4 206.3 L818.7 201.5 L817.8 197 L816.8 192.7 L815.5 188.5 L814 184.4 L812.1 180.3 L810.1 176.4 L807.8 172.7 L805.3 169.2 L802.7 165.9 L800 162.9 L797.1 160.1 L793.9 157.5 L790.7 155.1 L787.4 153 L784 151.2 L780.6 149.6 L777.2 148.4 L773.8 147.5 L770.3 146.8 L766.8 146.3 L763.3 146 L760 145.9 L756.8 145.9 L753.6 146.1 L750.4 146.5 L747.3 147.1 L744.1 147.9 L740.9 149 L737.5 150.5 L734.1 152.2 L730.6 154.1 L727.2 156.3 L723.9 158.8 L720.8 161.5 L717.8 164.5 L715 168 L712.4 171.6 L710 175.3 L707.9 178.8 L706.1 182.2 L704.7 185.6 L703.8 189 L703.3 192.1 L703 194.8 L702.8 196.9 L702.5 198.3Z" fill="#bcbcbc" stroke="#8f8f8f" stroke-width="0.6" stroke-linejoin="round"/>
<path d="M706.8 198.9 L707 197.4 L707.2 195.2 L707.5 192.7 L708 189.8 L708.8 186.8 L709.9 183.8 L711.4 180.6 L713.2 177.1 L715.3 173.4 L717.6 169.7 L720.1 166.3 L722.7 163.2 L725.5 160.5 L728.5 158 L731.7 155.7 L735 153.6 L738.2 151.8 L741.4 150.3 L744.5 149.1 L747.6 148.2 L750.6 147.5 L753.7 147.1 L756.8 146.9 L760 146.8 L763.3 147 L766.7 147.3 L770.1 147.7 L773.5 148.5 L776.9 149.5 L780.1 150.8 L783.3 152.5 L786.4 154.4 L789.5 156.7 L792.4 159.2 L795.3 161.9 L797.9 164.7 L800.3 167.8 L802.6 171 L804.8 174.5 L806.8 178.1 L808.6 181.9 L810.1 185.8 L811.5 189.7 L812.5 193.7 L813.4 197.8 L814.2 202.2 L814.8 206.8 L815.3 211.9 L815.6 217.5 L815.9 223.5 L815.9 229.8 L815.9 236.4 L815.9 243.1 L815.8 250 L815.7 257.4 L815.4 265.3 L815.2 273.5 L814.9 281.4 L814.6 288.7 L814.3 295 L814.2 300.3 L814 304.7 L813.9 308.6 L813.8 312 L813.6 315.1 L813.3 318 L813 320.7 L812.7 323 L812.3 324.9 L811.8 326.7 L811.3 328.4 L810.6 330.1 L809.9 331.9 L809.2 333.5 L808.3 335.1 L807.4 336.6 L806.4 338 L805.3 339.2 L804.1 340.2 L802.9 341 L801.6 341.7 L800.2 342.3 L798.7 342.7 L797 343.2 L795.3 343.5 L793.3 343.7 L791.3 343.9 L789.2 344 L787.1 344.1 L785 344.2 L782.9 344.2 L780.7 344.2 L778.6 344.2 L776.5 344.2 L774.6 344.3 L773 344.5 L771.7 344.7 L770.6 345.1 L769.8 345.5 L769.1 346 L768.6 346.6 L768.3 347.4 L768.2 348.3 L768.3 349.2 L768.5 350.2 L768.8 351.5 L769.1 353.1 L769.3 355 L769.4 357.3 L769.6 359.9 L769.8 362.7 L770 365.7 L770.2 368.8 L770.3 372 L770.5 375.4 L770.7 379.1 L770.9 383 L771.1 386.7 L771.2 389.7 L771.3 392 L774.9 391.8 L774.8 389.6 L774.7 386.5 L774.5 382.8 L774.3 379 L774.1 375.2 L773.9 371.8 L773.7 368.6 L773.5 365.5 L773.3 362.5 L773.1 359.6 L772.8 357 L772.5 354.6 L772.1 352.5 L771.6 350.8 L771 349.4 L770.5 348.5 L770.3 348 L770.1 347.6 L770.1 347.2 L770.2 346.8 L770.4 346.4 L771 346 L772 345.5 L773.1 345.2 L774.7 344.9 L776.5 344.8 L778.6 344.8 L780.7 344.8 L782.9 344.9 L785 344.8 L787.1 344.7 L789.2 344.6 L791.3 344.5 L793.4 344.4 L795.4 344.2 L797.2 343.9 L798.9 343.5 L800.4 343.1 L801.9 342.6 L803.4 341.9 L804.8 341.2 L806.1 340.2 L807.5 339 L808.8 337.7 L810 336.3 L811.1 334.7 L812.2 333 L813.1 331.2 L813.9 329.5 L814.7 327.7 L815.4 325.8 L816 323.7 L816.5 321.3 L816.9 318.5 L817.2 315.4 L817.4 312.2 L817.6 308.7 L817.7 304.8 L817.8 300.4 L817.9 295.2 L818.2 288.9 L818.4 281.5 L818.7 273.6 L819 265.4 L819.1 257.4 L819.3 250.1 L819.3 243.2 L819.4 236.4 L819.3 229.8 L819.2 223.4 L819 217.3 L818.6 211.7 L818 206.5 L817.3 201.7 L816.5 197.2 L815.5 193 L814.3 188.8 L812.8 184.8 L811 180.8 L809.1 176.9 L806.9 173.2 L804.5 169.7 L802 166.5 L799.3 163.4 L796.5 160.6 L793.5 158 L790.3 155.6 L787 153.4 L783.8 151.6 L780.5 150 L777.1 148.7 L773.7 147.8 L770.2 147.1 L766.7 146.6 L763.3 146.3 L760 146.2 L756.8 146.2 L753.6 146.4 L750.5 146.8 L747.4 147.4 L744.2 148.3 L741 149.4 L737.7 150.9 L734.4 152.6 L731 154.6 L727.6 156.8 L724.4 159.3 L721.4 162 L718.5 165 L715.8 168.5 L713.3 172.1 L711 175.8 L709 179.3 L707.3 182.6 L706 185.9 L705.1 189.2 L704.6 192.3 L704.3 194.9 L704 197 L703.8 198.5Z" fill="#d6d6d6" opacity="0.9"/>
<path d="M711.9 199.6 L712.1 197.9 L712.3 195.8 L712.6 193.4 L713 190.8 L713.5 188.2 L714.4 185.6 L715.6 182.5 L717.1 179 L718.8 175.3 L720.7 171.7 L722.8 168.3 L725 165.3 L727.4 162.5 L730.1 159.9 L733 157.5 L736 155.3 L739.1 153.4 L742.1 151.8 L745 150.5 L747.9 149.5 L750.9 148.8 L753.8 148.3 L756.9 148 L760 148 L763.2 148.1 L766.5 148.4 L769.9 148.9 L773.2 149.7 L776.4 150.8 L779.4 152.2 L782.3 154 L785.2 156.1 L788 158.5 L790.6 161.1 L793 163.9 L795.3 166.8 L797.4 169.8 L799.3 173.1 L801.2 176.5 L802.8 180 L804.3 183.7 L805.6 187.4 L806.6 191.1 L807.5 194.9 L808.2 198.8 L808.8 202.9 L809.3 207.4 L809.7 212.4 L810 217.8 L810.1 223.6 L810.2 229.8 L810.1 236.3 L810.1 243.1 L809.9 249.9 L809.8 257.2 L809.5 265.1 L809.2 273.2 L808.8 281.2 L808.5 288.5 L808.2 294.8 L808 300.1 L807.8 304.5 L807.7 308.4 L807.5 311.7 L807.4 314.7 L807.2 317.5 L807.1 320.1 L807 322.2 L806.8 324 L806.7 325.6 L806.5 327.2 L806.2 328.8 L805.9 330.5 L805.6 332.2 L805.2 333.7 L804.7 335.2 L804.2 336.5 L803.5 337.7 L802.8 338.7 L801.8 339.5 L800.8 340.3 L799.6 340.9 L798.3 341.5 L796.8 342 L795.1 342.4 L793.2 342.6 L791.2 342.8 L789.1 342.9 L787 342.9 L785 343 L782.9 343.1 L780.7 343.1 L778.6 343.1 L776.5 343.1 L774.5 343.2 L772.9 343.3 L771.5 343.3 L770.2 343.4 L769 343.6 L767.8 344 L766.6 344.8 L765.6 345.9 L764.8 347.4 L764.4 348.9 L764.1 350.4 L763.9 351.9 L763.8 353.4 L763.7 355.2 L763.6 357.5 L763.7 360.2 L763.8 363 L763.9 366.1 L764.1 369.2 L764.2 372.3 L764.4 375.7 L764.6 379.5 L764.8 383.3 L765 387 L765.1 390.1 L765.2 392.3 L768.6 392.1 L768.5 389.9 L768.3 386.8 L768.1 383.2 L767.9 379.3 L767.8 375.5 L767.6 372.1 L767.4 369 L767.2 365.9 L767.1 362.9 L766.9 360 L766.8 357.5 L766.7 355.2 L766.7 353.5 L766.6 351.9 L766.5 350.5 L766.5 349.2 L766.6 347.9 L767 346.8 L767.7 345.8 L768.5 345.1 L769.4 344.6 L770.4 344.3 L771.6 344.1 L772.9 343.9 L774.6 343.8 L776.5 343.7 L778.6 343.7 L780.7 343.7 L782.9 343.7 L785 343.6 L787 343.6 L789.1 343.5 L791.2 343.4 L793.3 343.2 L795.2 343 L796.9 342.6 L798.5 342.2 L799.9 341.6 L801.2 341 L802.4 340.3 L803.5 339.5 L804.5 338.4 L805.4 337.2 L806.2 335.9 L807 334.4 L807.6 332.8 L808.2 331.1 L808.7 329.4 L809.1 327.7 L809.5 326.1 L809.8 324.4 L810.1 322.5 L810.4 320.4 L810.6 317.8 L810.8 314.9 L811 311.9 L811.1 308.5 L811.2 304.7 L811.4 300.2 L811.6 294.9 L811.8 288.6 L812.1 281.3 L812.5 273.4 L812.8 265.2 L813 257.3 L813.2 250 L813.3 243.1 L813.3 236.4 L813.3 229.8 L813.3 223.6 L813.1 217.7 L812.7 212.2 L812.3 207.1 L811.7 202.5 L811.1 198.3 L810.3 194.3 L809.3 190.4 L808.1 186.6 L806.6 182.7 L805 179 L803.2 175.4 L801.2 172 L799 168.7 L796.7 165.7 L794.3 162.8 L791.6 160.1 L788.8 157.5 L785.9 155.2 L782.9 153.2 L779.8 151.4 L776.7 150.1 L773.4 149 L770 148.3 L766.6 147.8 L763.3 147.5 L760 147.4 L756.8 147.4 L753.8 147.6 L750.7 148.1 L747.7 148.8 L744.7 149.7 L741.7 151 L738.6 152.5 L735.4 154.4 L732.3 156.5 L729.2 158.9 L726.3 161.5 L723.7 164.2 L721.3 167.2 L719 170.7 L716.8 174.3 L714.9 178 L713.3 181.5 L711.9 184.6 L710.9 187.5 L710.2 190.3 L709.8 193 L709.5 195.5 L709.3 197.6 L709.1 199.2Z" fill="#9a9a9a" opacity="0.8"/>
<path d="M722.5 168.2 L724.8 165.1 L727.2 162.4 L729.9 159.8 L732.9 157.4 L735.9 155.2 L739 153.3 L742 151.7 L745 150.4 L747.9 149.4 L750.8 148.7 L753.8 148.3 L756.9 148 L760 148 L763.2 148.1 L766.5 148.4 L769.9 148.9 L773.2 149.6 L776.4 150.7 L779.5 152.1 L782.4 153.9 L785.3 156 L788.1 158.4 L790.7 161 L793.2 163.8 L795.5 166.7 L797.7 169.8 L802.1 166.3 L799.5 163.3 L796.6 160.5 L793.6 157.9 L790.4 155.5 L787.1 153.4 L783.8 151.5 L780.5 149.9 L777.2 148.7 L773.7 147.7 L770.2 146.9 L766.8 146.4 L763.3 146.1 L760 146 L756.8 146 L753.6 146.3 L750.5 146.7 L747.3 147.3 L744.2 148.2 L741 149.3 L737.7 150.8 L734.3 152.5 L730.9 154.5 L727.5 156.7 L724.3 159.2 L721.2 161.9 L718.4 164.9Z" fill="#6f6f6f"/>
<ellipse cx="772" cy="405" rx="11.5" ry="3.2" fill="#9a8f8a" opacity="0.8"/>
<ellipse cx="771" cy="399.5" rx="9.8" ry="6.8" fill="url(#ballg)" stroke="#5f5653" stroke-width="0.9"/>
<ellipse cx="770.5" cy="400" rx="3" ry="2.6" fill="#ffffff" opacity="0.8"/>
<!-- dimension lines -->
<g stroke="#151515" stroke-width="2.2" fill="none" stroke-linecap="butt">
<path d="M438 137 V543 M429.5 137.5 H447.5 M429.5 543 H447.5"/>
<path d="M948 137 V387"/>
<path d="M1128.5 360 V455 M1156 344.5 V435 M1131.5 409 L1153.5 403.2"/>
<path d="M476 567 L1010 712.8 M473.3 574.6 L478.7 559.4"/>
</g>
<text transform="translate(458 233.5) rotate(90)" font-family="'Liberation Sans', sans-serif" font-size="39.5" textLength="201.8" lengthAdjust="spacingAndGlyphs" text-anchor="start" fill="#1f1f1f" stroke="#1f1f1f" stroke-width="0.75" stroke-linejoin="round">18cm/7.1in</text>
<text transform="translate(1169.8 402.6) rotate(0)" font-family="'Liberation Sans', sans-serif" font-size="39.5" textLength="178.9" lengthAdjust="spacingAndGlyphs" text-anchor="start" fill="#1f1f1f" stroke="#1f1f1f" stroke-width="0.75" stroke-linejoin="round">2cm/0.8in</text>
<text transform="translate(620.7 653.7) rotate(14.4)" font-family="'Liberation Sans', sans-serif" font-size="39.5" textLength="222.7" lengthAdjust="spacingAndGlyphs" text-anchor="start" fill="#1f1f1f" stroke="#1f1f1f" stroke-width="0.75" stroke-linejoin="round">28cm/11.0in</text>
</g>
<!-- wooden hanger -->
<path d="M554.5 1104.7 L557.5 1168 Q558 1175 565 1172.8 L679.7 1137.3 M679.7 1137.3 A4.2 4.2 0 0 0 677.2 1129.2 L627.5 1144.4 Q617.9 1147.3 612.9 1141.3 M583 1108.7 L585 1162 M602.5 1111.8 L605.5 1179 Q606 1186 613 1183.8 L729.8 1150.3 M729.8 1150.3 A4.2 4.2 0 0 0 727.5 1142.1 L677.5 1156.3 Q667.8 1159 662.8 1153 M631 1115.7 L633 1173 M660.5 1120.3 L663.5 1183 Q664 1190 671 1187.8 L789.9 1156.3 M789.9 1156.3 A4.2 4.2 0 0 0 787.8 1148.1 L737.5 1161.3 Q727.8 1163.8 722.8 1157.8 M689 1124.2 L691 1177 M719.5 1129 L722.5 1203 Q723 1210 730 1207.8 L851 1178.4 M851 1178.4 A4.2 4.2 0 0 0 849 1170.1 L798.4 1182.3 Q788.7 1184.6 783.7 1178.6 M748 1133 L750 1197 M777.5 1137.7 L780.5 1212 Q781 1219 788 1216.8 L911 1189.5 M911 1189.5 A4.2 4.2 0 0 0 909.2 1181.2 L858.4 1192.4 Q848.6 1194.5 843.6 1188.5 M806 1141.5 L808 1206 M834.5 1145 L837.5 1222 Q838 1229 845 1226.8 L970 1201.7 M970 1201.7 A4.2 4.2 0 0 0 968.4 1193.4 L917.4 1203.5 Q907.5 1205.5 902.5 1199.5 M863 1148.2 L865 1216 M896.5 1153.3 L899.5 1234 Q900 1241 907 1238.8 L1034 1216 M1034 1216 A4.2 4.2 0 0 0 1032.5 1207.7 L981.3 1216.8 Q971.4 1218.5 966.4 1212.5 M925 1157.7 L927 1228 M963.5 1164.2 L966.5 1245 Q967 1252 974 1249.8 L1102.9 1229.4 M1102.9 1229.4 A4.2 4.2 0 0 0 1101.6 1221 L1050.2 1229.1 Q1040.3 1230.6 1035.3 1224.6 M992 1168.6 L994 1239" fill="none" stroke="#939393" stroke-width="4.4" stroke-linecap="round" stroke-linejoin="round"/>
<path d="M554.5 1104.7 L557.5 1168 Q558 1175 565 1172.8 L679.7 1137.3 M679.7 1137.3 A4.2 4.2 0 0 0 677.2 1129.2 L627.5 1144.4 Q617.9 1147.3 612.9 1141.3 M583 1108.7 L585 1162 M602.5 1111.8 L605.5 1179 Q606 1186 613 1183.8 L729.8 1150.3 M729.8 1150.3 A4.2 4.2 0 0 0 727.5 1142.1 L677.5 1156.3 Q667.8 1159 662.8 1153 M631 1115.7 L633 1173 M660.5 1120.3 L663.5 1183 Q664 1190 671 1187.8 L789.9 1156.3 M789.9 1156.3 A4.2 4.2 0 0 0 787.8 1148.1 L737.5 1161.3 Q727.8 1163.8 722.8 1157.8 M689 1124.2 L691 1177 M719.5 1129 L722.5 1203 Q723 1210 730 1207.8 L851 1178.4 M851 1178.4 A4.2 4.2 0 0 0 849 1170.1 L798.4 1182.3 Q788.7 1184.6 783.7 1178.6 M748 1133 L750 1197 M777.5 1137.7 L780.5 1212 Q781 1219 788 1216.8 L911 1189.5 M911 1189.5 A4.2 4.2 0 0 0 909.2 1181.2 L858.4 1192.4 Q848.6 1194.5 843.6 1188.5 M806 1141.5 L808 1206 M834.5 1145 L837.5 1222 Q838 1229 845 1226.8 L970 1201.7 M970 1201.7 A4.2 4.2 0 0 0 968.4 1193.4 L917.4 1203.5 Q907.5 1205.5 902.5 1199.5 M863 1148.2 L865 1216 M896.5 1153.3 L899.5 1234 Q900 1241 907 1238.8 L1034 1216 M1034 1216 A4.2 4.2 0 0 0 1032.5 1207.7 L981.3 1216.8 Q971.4 1218.5 966.4 1212.5 M925 1157.7 L927 1228 M963.5 1164.2 L966.5 1245 Q967 1252 974 1249.8 L1102.9 1229.4 M1102.9 1229.4 A4.2 4.2 0 0 0 1101.6 1221 L1050.2 1229.1 Q1040.3 1230.6 1035.3 1224.6 M992 1168.6 L994 1239" fill="none" stroke="#f1f1f1" stroke-width="1.7" stroke-linecap="round" stroke-linejoin="round"/>
<circle cx="612.9" cy="1141.3" r="2.2" fill="#cfcfcf" stroke="#555" stroke-width="1.1"/>
<circle cx="662.8" cy="1153" r="2.2" fill="#cfcfcf" stroke="#555" stroke-width="1.1"/>
<circle cx="722.8" cy="1157.8" r="2.2" fill="#cfcfcf" stroke="#555" stroke-width="1.1"/>
<circle cx="783.7" cy="1178.6" r="2.2" fill="#cfcfcf" stroke="#555" stroke-width="1.1"/>
<circle cx="843.6" cy="1188.5" r="2.2" fill="#cfcfcf" stroke="#555" stroke-width="1.1"/>
<circle cx="902.5" cy="1199.5" r="2.2" fill="#cfcfcf" stroke="#555" stroke-width="1.1"/>
<circle cx="966.4" cy="1212.5" r="2.2" fill="#cfcfcf" stroke="#555" stroke-width="1.1"/>
<circle cx="1035.3" cy="1224.6" r="2.2" fill="#cfcfcf" stroke="#555" stroke-width="1.1"/>
<path d="M531.2 1100.8 L533.8 1175 M588.8 1109.6 L591.2 1178.8 M640 1117.1 L642.5 1193.8 M705 1126.7 L707.5 1211 M756.2 1134.3 L758.8 1212.5 M817.5 1142.9 L820 1230 M878.5 1150.2 L881 1239 M942.5 1160.6 L945 1247" fill="none" stroke="#939393" stroke-width="4.4" stroke-linecap="round"/>
<path d="M531.2 1100.8 L533.8 1175 M588.8 1109.6 L591.2 1178.8 M640 1117.1 L642.5 1193.8 M705 1126.7 L707.5 1211 M756.2 1134.3 L758.8 1212.5 M817.5 1142.9 L820 1230 M878.5 1150.2 L881 1239 M942.5 1160.6 L945 1247" fill="none" stroke="#f1f1f1" stroke-width="1.7" stroke-linecap="round"/>
<path d="M533.8 1175 Q534.2 1181.5 526.8 1183 L399.5 1227.2 A4.8 4.8 0 0 1 396.4 1218.2 L451.7 1199.2 Q461.1 1196 472.5 1186 M591.2 1178.8 Q591.8 1185.2 584.2 1186.8 L452.2 1240.6 A4.8 4.8 0 0 1 448.6 1231.8 L508.5 1207.8 Q517.8 1204.1 528.8 1193.8 M642.5 1193.8 Q643 1200.2 635.5 1201.8 L510.9 1253.1 A4.8 4.8 0 0 1 507.4 1244.3 L564.1 1221.3 Q573.3 1217.6 583.8 1206 M707.5 1211 Q708 1217.5 700.5 1219 L577.2 1269.1 A4.8 4.8 0 0 1 573.6 1260.3 L626.8 1239.1 Q636.1 1235.4 646 1222.5 M758.8 1212.5 Q759.2 1219 751.8 1220.5 L633.3 1275.4 A4.8 4.8 0 0 1 629.4 1266.7 L684 1242 Q693.1 1237.9 703.8 1227.5 M820 1230 Q820.5 1236.5 813 1238 L694.7 1290.5 A4.8 4.8 0 0 1 691 1281.8 L742.4 1259.4 Q751.6 1255.4 761 1242 M881 1239 Q881.5 1245.5 874 1247 L763.4 1303.4 A4.8 4.8 0 0 1 759.1 1294.9 L810.2 1269.6 Q819.1 1265.2 829.7 1255 M945 1247 Q945.5 1253.5 938 1255 L824.4 1317.2 A4.8 4.8 0 0 1 820 1308.8 L872.8 1280.7 Q881.6 1276 890.6 1263" fill="none" stroke="#888075" stroke-width="3.9" stroke-linecap="round" stroke-linejoin="round"/>
<path d="M533.8 1175 Q534.2 1181.5 526.8 1183 L399.5 1227.2 A4.8 4.8 0 0 1 396.4 1218.2 L451.7 1199.2 Q461.1 1196 472.5 1186 M591.2 1178.8 Q591.8 1185.2 584.2 1186.8 L452.2 1240.6 A4.8 4.8 0 0 1 448.6 1231.8 L508.5 1207.8 Q517.8 1204.1 528.8 1193.8 M642.5 1193.8 Q643 1200.2 635.5 1201.8 L510.9 1253.1 A4.8 4.8 0 0 1 507.4 1244.3 L564.1 1221.3 Q573.3 1217.6 583.8 1206 M707.5 1211 Q708 1217.5 700.5 1219 L577.2 1269.1 A4.8 4.8 0 0 1 573.6 1260.3 L626.8 1239.1 Q636.1 1235.4 646 1222.5 M758.8 1212.5 Q759.2 1219 751.8 1220.5 L633.3 1275.4 A4.8 4.8 0 0 1 629.4 1266.7 L684 1242 Q693.1 1237.9 703.8 1227.5 M820 1230 Q820.5 1236.5 813 1238 L694.7 1290.5 A4.8 4.8 0 0 1 691 1281.8 L742.4 1259.4 Q751.6 1255.4 761 1242 M881 1239 Q881.5 1245.5 874 1247 L763.4 1303.4 A4.8 4.8 0 0 1 759.1 1294.9 L810.2 1269.6 Q819.1 1265.2 829.7 1255 M945 1247 Q945.5 1253.5 938 1255 L824.4 1317.2 A4.8 4.8 0 0 1 820 1308.8 L872.8 1280.7 Q881.6 1276 890.6 1263" fill="none" stroke="#b7a281" stroke-width="1.2" stroke-linecap="round" stroke-linejoin="round"/>
<path d="M396.4 1218.2 A4.8 4.8 0 0 0 393.5 1224.2" fill="none" stroke="#3c3c3c" stroke-width="2.4" stroke-linecap="round"/>
<path d="M393.5 1224.2 A4.8 4.8 0 0 0 399.5 1227.2" fill="none" stroke="#c9c9c9" stroke-width="3" stroke-linecap="round"/>
<circle cx="472.5" cy="1186" r="2.5" fill="#c4c4c4" stroke="#4a4a4a" stroke-width="1.3"/>
<path d="M448.6 1231.8 A4.8 4.8 0 0 0 446 1238" fill="none" stroke="#3c3c3c" stroke-width="2.4" stroke-linecap="round"/>
<path d="M446 1238 A4.8 4.8 0 0 0 452.2 1240.6" fill="none" stroke="#c9c9c9" stroke-width="3" stroke-linecap="round"/>
<circle cx="528.8" cy="1193.8" r="2.5" fill="#c4c4c4" stroke="#4a4a4a" stroke-width="1.3"/>
<path d="M507.4 1244.3 A4.8 4.8 0 0 0 504.8 1250.5" fill="none" stroke="#3c3c3c" stroke-width="2.4" stroke-linecap="round"/>
<path d="M504.8 1250.5 A4.8 4.8 0 0 0 510.9 1253.1" fill="none" stroke="#c9c9c9" stroke-width="3" stroke-linecap="round"/>
<circle cx="583.8" cy="1206" r="2.5" fill="#c4c4c4" stroke="#4a4a4a" stroke-width="1.3"/>
<path d="M573.6 1260.3 A4.8 4.8 0 0 0 571 1266.5" fill="none" stroke="#3c3c3c" stroke-width="2.4" stroke-linecap="round"/>
<path d="M571 1266.5 A4.8 4.8 0 0 0 577.2 1269.1" fill="none" stroke="#c9c9c9" stroke-width="3" stroke-linecap="round"/>
<circle cx="646" cy="1222.5" r="2.5" fill="#c4c4c4" stroke="#4a4a4a" stroke-width="1.3"/>
<path d="M629.4 1266.7 A4.8 4.8 0 0 0 627 1273" fill="none" stroke="#3c3c3c" stroke-width="2.4" stroke-linecap="round"/>
<path d="M627 1273 A4.8 4.8 0 0 0 633.3 1275.4" fill="none" stroke="#c9c9c9" stroke-width="3" stroke-linecap="round"/>
<circle cx="703.8" cy="1227.5" r="2.5" fill="#c4c4c4" stroke="#4a4a4a" stroke-width="1.3"/>
<path d="M691 1281.8 A4.8 4.8 0 0 0 688.5 1288" fill="none" stroke="#3c3c3c" stroke-width="2.4" stroke-linecap="round"/>
<path d="M688.5 1288 A4.8 4.8 0 0 0 694.7 1290.5" fill="none" stroke="#c9c9c9" stroke-width="3" stroke-linecap="round"/>
<circle cx="761" cy="1242" r="2.5" fill="#c4c4c4" stroke="#4a4a4a" stroke-width="1.3"/>
<path d="M759.1 1294.9 A4.8 4.8 0 0 0 757 1301.3" fill="none" stroke="#3c3c3c" stroke-width="2.4" stroke-linecap="round"/>
<path d="M757 1301.3 A4.8 4.8 0 0 0 763.4 1303.4" fill="none" stroke="#c9c9c9" stroke-width="3" stroke-linecap="round"/>
<circle cx="829.7" cy="1255" r="2.5" fill="#c4c4c4" stroke="#4a4a4a" stroke-width="1.3"/>
<path d="M820 1308.8 A4.8 4.8 0 0 0 818 1315.2" fill="none" stroke="#3c3c3c" stroke-width="2.4" stroke-linecap="round"/>
<path d="M818 1315.2 A4.8 4.8 0 0 0 824.4 1317.2" fill="none" stroke="#c9c9c9" stroke-width="3" stroke-linecap="round"/>
<circle cx="890.6" cy="1263" r="2.5" fill="#c4c4c4" stroke="#4a4a4a" stroke-width="1.3"/>
<path d="M636.8 856.8 L637.3 856.3 L638.1 855.7 L639.1 854.8 L640.1 853.8 L641.3 852.5 L642.5 851.1 L643.5 849.4 L644.6 847.6 L645.7 845.6 L646.8 843.6 L648.1 841.3 L649.5 838.9 L651.2 836.2 L653 833.2 L654.9 830 L656.9 826.9 L659.1 823.9 L661.4 821.3 L663.9 818.9 L666.7 816.5 L669.7 814.2 L672.8 812.1 L675.8 810.3 L678.8 808.8 L681.8 807.6 L684.7 806.7 L687.7 806 L690.7 805.5 L693.8 805.2 L697 805.1 L700.3 805.2 L703.7 805.5 L707.1 806 L710.5 806.7 L713.9 807.6 L717.2 808.8 L720.5 810.1 L723.8 811.7 L727.1 813.4 L730.2 815.4 L733.3 817.6 L736.2 820 L739 822.7 L741.8 825.8 L744.5 829.1 L747 832.5 L749.4 836 L751.5 839.5 L753.4 842.9 L755.1 846.5 L756.6 850.1 L757.9 853.7 L759.1 857.3 L760.1 860.8 L760.9 864.1 L761.6 867.4 L762.1 870.7 L762.4 873.8 L762.6 876.9 L762.6 879.9 L762.5 882.7 L762.2 885.4 L761.7 888 L761.1 890.6 L760.4 893.3 L759.5 896.1 L758.4 899 L757.1 901.9 L755.7 904.9 L754.1 908 L752.4 911.3 L750.7 914.8 L748.8 918.6 L746.8 922.5 L744.8 926.6 L742.6 930.7 L740.6 934.9 L738.7 938.9 L736.8 942.8 L735 946.7 L733.2 950.6 L731.5 954.4 L729.9 958.3 L728.5 962.2 L727.3 965.9 L726.3 969.6 L725.3 973.3 L724.6 977 L723.9 980.8 L723.4 984.7 L723.1 988.9 L723 993.1 L723 997.4 L723.1 1001.7 L723.2 1006 L723.4 1010.1 L723.6 1014.5 L724 1019.2 L724.4 1023.8 L724.8 1028.1 L725.2 1031.6 L725.4 1034.2 L730.6 1033.8 L730.3 1031.2 L730 1027.6 L729.6 1023.3 L729.2 1018.7 L728.8 1014.2 L728.6 1009.9 L728.4 1005.8 L728.3 1001.5 L728.2 997.3 L728.2 993.2 L728.3 989.1 L728.6 985.3 L729.1 981.6 L729.7 978 L730.4 974.5 L731.3 971 L732.3 967.4 L733.5 963.8 L734.8 960.2 L736.3 956.5 L737.9 952.7 L739.7 948.9 L741.5 945 L743.3 941.1 L745.3 937.1 L747.3 933.1 L749.4 928.9 L751.5 924.8 L753.5 920.9 L755.3 917.2 L757.1 913.7 L758.8 910.4 L760.4 907.2 L761.9 904.1 L763.3 901 L764.5 897.9 L765.6 894.9 L766.5 892 L767.2 889.2 L767.8 886.2 L768.2 883.2 L768.4 880.1 L768.4 876.8 L768.3 873.4 L768 870 L767.5 866.4 L766.8 862.8 L765.9 859.2 L764.8 855.5 L763.6 851.7 L762.1 847.9 L760.4 844 L758.6 840.2 L756.5 836.5 L754.2 832.9 L751.6 829.2 L748.9 825.6 L746 822.1 L742.9 818.9 L739.8 816 L736.5 813.4 L733.1 811.1 L729.6 809 L726 807.2 L722.4 805.6 L718.8 804.2 L715.2 803.1 L711.5 802.2 L707.8 801.6 L704.1 801.1 L700.5 800.9 L697 800.9 L693.6 801.1 L690.2 801.4 L686.9 802 L683.6 802.8 L680.4 803.8 L677.2 805.2 L673.9 806.9 L670.6 808.8 L667.4 811 L664.3 813.5 L661.3 816 L658.6 818.7 L656.1 821.6 L653.8 824.8 L651.7 828.1 L649.8 831.3 L648.1 834.4 L646.5 837.1 L645 839.5 L643.7 841.8 L642.5 843.9 L641.5 845.8 L640.5 847.5 L639.5 848.9 L638.6 850.1 L637.6 851.1 L636.6 852 L635.6 852.7 L634.8 853.3 L634.2 853.8Z" fill="#e9e9e9" stroke="#747474" stroke-width="1" stroke-linejoin="round"/>
<path d="M668.6 813.6 L669.9 813 L671.6 812.1 L673.6 811 L675.8 809.9 L678.2 808.9 L680.5 808 L683 807.3 L685.6 806.5 L688.3 805.8 L691.1 805.3 L694 804.9 L697 804.8 L700.2 804.9 L703.5 805.2 L707 805.7 L710.5 806.4 L713.9 807.3 L717.3 808.5 L720.6 809.8 L723.9 811.4 L727.2 813.2 L730.4 815.2 L733.5 817.4 L736.4 819.8 L739.2 822.5 L742 825.6 L744.7 828.9 L747.3 832.4 L749.6 835.9 L751.8 839.3 L753.7 842.8 L755.4 846.4 L756.9 850.1 L758.3 853.7 L759.5 857.3 L760.6 860.7 L761.5 863.8 L762.1 866.9 L762.6 869.9 L763 872.8 L763.3 875.5 L763.5 878 L763.6 880.4 L763.5 882.7 L763.3 884.9 L763.1 886.8 L762.9 888.5 L762.8 889.8 L765.2 890.2 L765.5 889 L766 887.4 L766.5 885.4 L767 883.1 L767.3 880.6 L767.5 878 L767.5 875.3 L767.4 872.4 L767.2 869.3 L766.8 866.1 L766.2 862.8 L765.4 859.3 L764.4 855.8 L763.2 852 L761.8 848.2 L760.1 844.3 L758.3 840.4 L756.2 836.7 L753.9 833 L751.4 829.4 L748.7 825.8 L745.8 822.3 L742.7 819.1 L739.6 816.2 L736.3 813.6 L732.9 811.3 L729.4 809.3 L725.9 807.4 L722.3 805.9 L718.7 804.5 L715.1 803.4 L711.3 802.5 L707.6 801.9 L703.9 801.5 L700.4 801.2 L697 801.2 L693.7 801.4 L690.6 801.9 L687.6 802.5 L684.7 803.3 L682 804.1 L679.5 805 L677 806 L674.5 807.2 L672.3 808.5 L670.2 809.7 L668.6 810.7 L667.4 811.4Z" fill="#34383c" opacity="0.9"/>
<circle cx="635.8" cy="856" r="4.3" fill="#e4e4e4" stroke="#5f5f5f" stroke-width="1.3"/>
<path d="M457.5 996.4 L560 1008.6 L720 1028 L800 1041.5 L960 1059 L1044 1068 C1085 1074 1112 1092 1125 1118 C1133 1136 1139 1152 1139.5 1164 C1140 1178 1138 1190 1128 1195 Q1123 1197.5 1117 1197 L880 1158 L800 1148.5 L720 1136.5 L560 1113 L390 1085.8 Q386.3 1085 386.3 1080 L388 1050 C389 1028 402 1004 430 998 Q444 995.6 457.5 996.4 Z" fill="url(#woodg)"/>
<path d="M457.5 996.4 L560 1008.6 L720 1028 L800 1041.5 L960 1059 L1044 1068 C1085 1074 1112 1092 1125 1118 C1133 1136 1139 1152 1139.5 1164 C1140 1178 1138 1190 1128 1195 Q1123 1197.5 1117 1197 L880 1158 L800 1148.5 L720 1136.5 L560 1113 L390 1085.8 Q386.3 1085 386.3 1080 L388 1050 C389 1028 402 1004 430 998 Q444 995.6 457.5 996.4 Z" fill="url(#woodleft)"/>
<path d="M1030 1066 L1044 1068 C1085 1074 1112 1092 1125 1118 C1133 1136 1139 1152 1139.5 1164 C1140 1178 1138 1190 1128 1195 Q1123 1197.5 1117 1197 L1030 1184 Z" fill="url(#woodcap)"/>
<path d="M1052 1082 C1082 1090 1103 1108 1112 1140 C1116 1156 1117 1172 1116 1188" fill="none" stroke="#f4c271" stroke-width="2" opacity="0.7"/>
<g stroke="#151515" stroke-width="2" fill="#151515" stroke-linecap="round">
<path d="M1271.6 803.5 V1266" fill="none"/><circle cx="1271.6" cy="803.5" r="2.6" stroke="none"/><circle cx="1271.6" cy="1266" r="2.6" stroke="none"/>
<path d="M852.8 1347.2 L975.4 1277.8" fill="none"/><circle cx="852.8" cy="1347.2" r="3" stroke="none"/><circle cx="975.4" cy="1277.8" r="3" stroke="none"/>
<path d="M935.6 1384.1 L1121.3 1267.5" fill="none"/><circle cx="935.6" cy="1384.1" r="3" stroke="none"/><circle cx="1121.3" cy="1267.5" r="3" stroke="none"/>
<path d="M332.8 1275.6 L1010 1433" fill="none"/>
</g>
<text transform="translate(1288 935.5) rotate(90)" font-family="'Liberation Sans', sans-serif" font-size="39.5" textLength="202.7" lengthAdjust="spacingAndGlyphs" text-anchor="start" fill="#1f1f1f" stroke="#1f1f1f" stroke-width="0.75" stroke-linejoin="round">12cm/4.7in</text>
<text transform="translate(888.6 1382.5) rotate(-29.9)" font-family="'Liberation Sans', sans-serif" font-size="39.5" textLength="209.3" lengthAdjust="spacingAndGlyphs" text-anchor="start" fill="#1f1f1f" stroke="#1f1f1f" stroke-width="0.75" stroke-linejoin="round">5.5cm/2.2in</text>
<text transform="translate(980.2 1414.4) rotate(-32.8)" font-family="'Liberation Sans', sans-serif" font-size="39.5" textLength="202" lengthAdjust="spacingAndGlyphs" text-anchor="start" fill="#1f1f1f" stroke="#1f1f1f" stroke-width="0.75" stroke-linejoin="round">13cm/5.1in</text>
<text transform="translate(486.3 1356.3) rotate(13.1)" font-family="'Liberation Sans', sans-serif" font-size="39.5" textLength="224.3" lengthAdjust="spacingAndGlyphs" text-anchor="start" fill="#1f1f1f" stroke="#1f1f1f" stroke-width="0.75" stroke-linejoin="round">28cm/11.0in</text>
</svg>
</body>
</html>
